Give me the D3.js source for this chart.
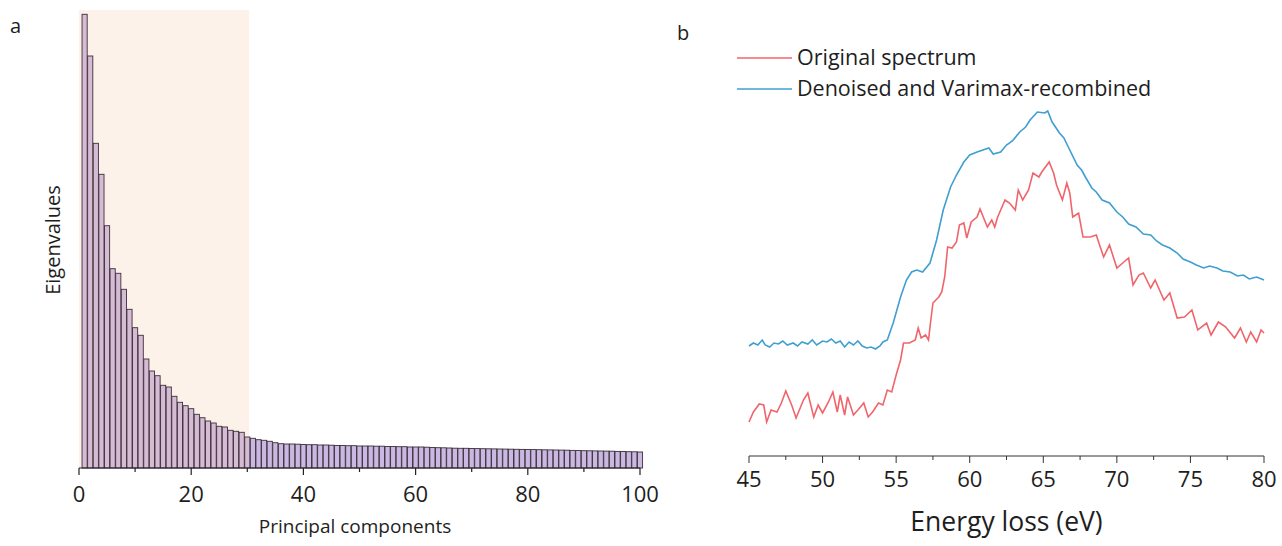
<!DOCTYPE html>
<html>
<head>
<meta charset="utf-8">
<script src="https://cdn.jsdelivr.net/npm/d3@7"></script>
<style>
html,body{margin:0;padding:0;background:#fff;}
svg text{font-family:"Open Sans","Noto Sans",sans-serif;fill:#1e1e1e;}
</style>
</head>
<body>
<svg id="chart" width="1282" height="546"></svg>
<script>
// ---------- Panel a data ----------
const components = d3.range(1, 101);
const eigenvalues = [
  453.7, 412, 324.7, 293.7, 242.3, 199.3, 194.7, 178.7, 158.7, 140.3,
  132.7, 109, 97, 92.3, 82.7, 81, 71.7, 65.7, 62.3, 59.3,
  53.7, 50.3, 47, 45, 41.7, 41, 37.7, 36.7, 35.7, 31,
  29.7, 28.3, 27.7, 26.7, 25.3, 24.3, 24, 24, 23.8, 23.5,
  23.3, 23.3, 23, 23, 22.8, 22.5, 22.5, 22.3, 22.3, 22,
  22, 22, 21.8, 21.8, 21.5, 21.5, 21.3, 21.3, 21, 21,
  21, 20.8, 20.5, 20.3, 20.2, 20, 19.8, 19.7, 19.7, 19.5,
  19.4, 19.3, 19.2, 19.1, 19, 18.9, 18.8, 18.7, 18.6, 18.5,
  18.4, 18.3, 18.2, 18.1, 18, 17.9, 17.8, 17.6, 17.5, 17.3,
  17.2, 17.1, 17, 16.9, 16.8, 16.6, 16.5, 16.3, 16.2, 16
];
const pcTicks = [0, 20, 40, 60, 80, 100];
const pcMinorTicks = [10, 30, 50, 70, 90];
const shadeRange = [0, 30.3];

// ---------- Panel b data ----------
const energyTicks = [45, 50, 55, 60, 65, 70, 75, 80];
const energyMinorTicks = [47.5, 52.5, 57.5, 62.5, 67.5, 72.5, 77.5];
const originalE = [45,45.3,45.7,46,46.2,46.5,46.9,47.2,47.5,47.9,48.2,48.7,49,49.4,49.7,50,50.4,50.7,51,51.2,51.5,51.7,52.1,52.4,52.8,53.1,53.4,53.8,54.1,54.4,54.7,55,55.3,55.5,55.9,56.3,56.5,56.7,57,57.2,57.3,57.5,57.9,58.1,58.3,58.5,58.8,59.1,59.3,59.6,59.8,60.1,60.5,60.7,61.2,61.5,61.7,61.9,62.4,62.7,63.1,63.3,63.6,64,64.3,64.7,64.9,65.4,65.7,65.9,66.3,66.6,66.8,67,67.4,67.7,68.2,68.6,69.1,69.5,70,70.4,70.8,71.1,71.5,71.8,72.3,72.6,73.2,73.6,74.1,74.6,75.1,75.5,76.1,76.4,76.9,77.4,78,78.4,78.8,79.1,79.5,79.8,80];
const originalI = [48,58,66,65,48,60,58,67,79,65,52,70,77,53,65,57,68,78,58,75,55,73,55,60,67,53,58,67,65,80,78,95,110,127,127,130,142,132,135,130,143,167,173,178,193,223,222,228,245,247,232,248,253,261,243,250,243,253,270,267,260,280,270,280,297,293,298,308,297,285,270,287,277,253,257,233,233,235,213,225,202,207,212,185,195,197,182,190,170,177,152,153,160,140,147,135,148,143,132,142,128,138,128,140,137];
const denoisedE = [45,45.3,45.6,45.9,46.1,46.4,46.7,47,47.3,47.6,48,48.3,48.6,49,49.3,49.6,50,50.3,50.6,50.9,51.2,51.5,51.8,52.1,52.4,52.7,53,53.3,53.6,53.9,54.1,54.4,54.8,55.3,55.7,56.05,56.4,56.8,57.3,57.75,58.2,58.7,59.1,59.6,60,60.5,60.9,61.3,61.6,62.1,62.5,62.9,63.4,63.8,64.1,64.6,65.1,65.3,65.6,66.1,66.4,66.7,67.3,67.6,67.9,68.3,68.6,69,69.5,70,70.4,70.8,71.3,71.8,72.3,72.7,73.1,73.6,74.1,74.5,75,75.4,75.9,76.3,76.8,77.2,77.7,78.2,78.6,79,79.5,80];
const denoisedI = [124,127,125,130,125,123,127,126,129,125,127,124,128,126,130,125,129,128,131,127,129,123,128,125,129,124,122,123,121,124,128,130,147,173,190,198,200,198,207,230,260,283,295,308,315,318,320,322,316,318,325,329,338,343,350,358,357,359,348,337,332,323,305,300,292,282,278,270,267,258,253,246,243,236,235,229,225,222,217,211,208,205,202,204,202,199,198,194,195,191,193,190];

// ---------- layout ----------
const svg = d3.select("#chart");
const A = {x0: 79, x1: 640, y0: 468, yTop: 8};
const B = {x0: 749, x1: 1264, y0: 456};

// Panel a
const xA = d3.scaleLinear().domain([0, 100]).range([A.x0, A.x1]);
const yA = d3.scaleLinear().domain([0, 460]).range([A.y0, A.yTop]);

svg.append("rect")
  .attr("x", xA(shadeRange[0])).attr("y", 10)
  .attr("width", xA(shadeRange[1]) - xA(shadeRange[0]))
  .attr("height", A.y0 - 10)
  .attr("fill", "#fdf2ea");

const bw = (xA(1) - xA(0)) * 0.92;
svg.append("g").selectAll("rect").data(eigenvalues).join("rect")
  .attr("x", (d, i) => xA(components[i]) - bw / 2)
  .attr("y", d => yA(d))
  .attr("width", bw)
  .attr("height", d => A.y0 - yA(d))
  .attr("fill", (d, i) => components[i] <= 30 ? "#d6bbd4" : "#cbb8e2")
  .attr("stroke", "#3b2f3a")
  .attr("stroke-width", 0.9);

const axA = svg.append("g").attr("transform", `translate(0,${A.y0})`);
axA.append("line").attr("x1", xA(0)).attr("x2", xA(100)).attr("stroke", "#222").attr("stroke-width", 1.2);
axA.selectAll(".maj").data(pcTicks).join("line")
  .attr("x1", d => xA(d)).attr("x2", d => xA(d)).attr("y1", 0).attr("y2", 7)
  .attr("stroke", "#222").attr("stroke-width", 1.2);
axA.selectAll(".min").data(pcMinorTicks).join("line")
  .attr("x1", d => xA(d)).attr("x2", d => xA(d)).attr("y1", 0).attr("y2", 4)
  .attr("stroke", "#222").attr("stroke-width", 1.2);
axA.selectAll("text").data(pcTicks).join("text")
  .attr("x", d => xA(d)).attr("y", 34)
  .attr("text-anchor", "middle").attr("font-size", 22).text(d => d);

svg.append("text").attr("x", 355).attr("y", 533)
  .attr("text-anchor", "middle").attr("font-size", 19).text("Principal components");
svg.append("text").attr("transform", "translate(60,240) rotate(-90)")
  .attr("text-anchor", "middle").attr("font-size", 20).text("Eigenvalues");
svg.append("text").attr("x", 10).attr("y", 33).attr("font-size", 20).text("a");

// Panel b
const xB = d3.scaleLinear().domain([45, 80]).range([B.x0, B.x1]);
const yB = d3.scaleLinear().domain([0, 400]).range([470, 70]);

const line = d3.line().x(d => xB(d[0])).y(d => yB(d[1]));
svg.append("path").datum(originalE.map((e, i) => [e, originalI[i]]))
  .attr("d", line).attr("fill", "none").attr("stroke", "#f0656b").attr("stroke-width", 1.6);
svg.append("path").datum(denoisedE.map((e, i) => [e, denoisedI[i]]))
  .attr("d", line).attr("fill", "none").attr("stroke", "#3f9fd1").attr("stroke-width", 1.6);

const axB = svg.append("g").attr("transform", `translate(0,${B.y0})`);
axB.append("line").attr("x1", xB(45)).attr("x2", xB(80)).attr("stroke", "#333").attr("stroke-width", 1);
axB.selectAll(".maj").data(energyTicks).join("line")
  .attr("x1", d => xB(d)).attr("x2", d => xB(d)).attr("y1", 0).attr("y2", 7)
  .attr("stroke", "#333").attr("stroke-width", 1);
axB.selectAll(".min").data(energyMinorTicks).join("line")
  .attr("x1", d => xB(d)).attr("x2", d => xB(d)).attr("y1", 0).attr("y2", 4)
  .attr("stroke", "#333").attr("stroke-width", 1);
axB.selectAll("text").data(energyTicks).join("text")
  .attr("x", d => xB(d)).attr("y", 31)
  .attr("text-anchor", "middle").attr("font-size", 22).text(d => d);
svg.append("text").attr("x", (B.x0 + B.x1) / 2).attr("y", 531)
  .attr("text-anchor", "middle").attr("font-size", 26.5).text("Energy loss (eV)");
svg.append("text").attr("x", 677).attr("y", 40).attr("font-size", 20).text("b");

// legend
const legend = [
  {label: "Original spectrum", color: "#f0656b", y: 58},
  {label: "Denoised and Varimax-recombined", color: "#3f9fd1", y: 89}
];
const lg = svg.append("g");
lg.selectAll("line").data(legend).join("line")
  .attr("x1", 737).attr("x2", 792).attr("y1", d => d.y).attr("y2", d => d.y)
  .attr("stroke", d => d.color).attr("stroke-width", 1.6);
lg.selectAll("text").data(legend).join("text")
  .attr("x", 797).attr("y", d => d.y + 7).attr("font-size", 21.5).text(d => d.label);
</script>
</body>
</html>
